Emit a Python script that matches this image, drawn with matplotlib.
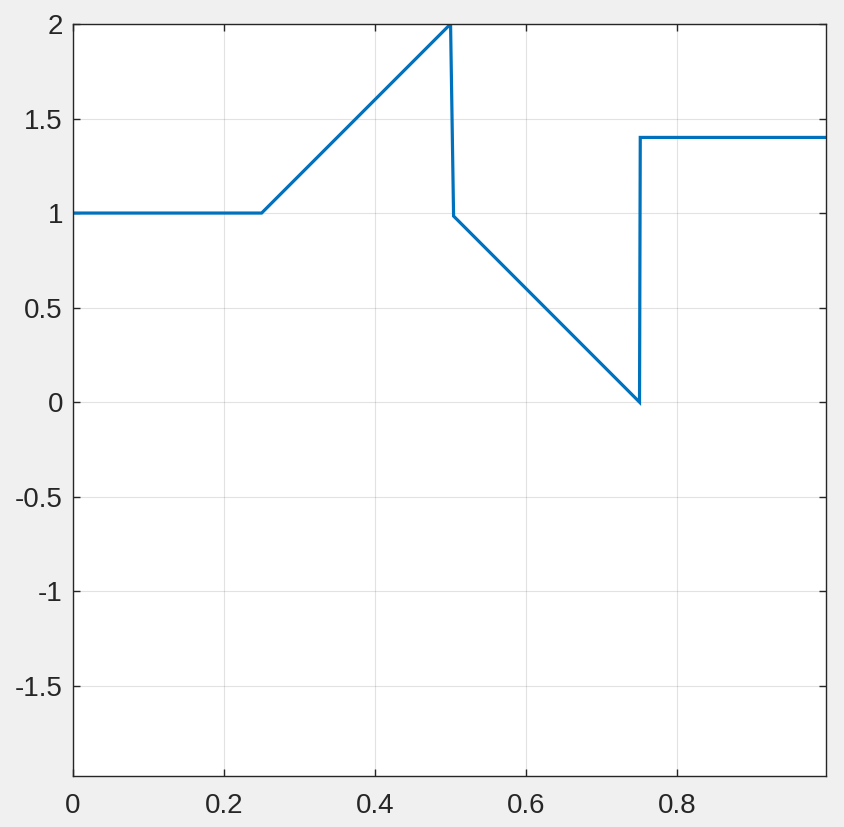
import matplotlib
matplotlib.use('Agg')
import matplotlib.pyplot as plt

# Break points of the piecewise signal.
x = [0.0, 0.25, 0.5, 0.504, 0.75, 0.751, 0.997]
y = [1.0, 1.0, 2.0, 0.984, 0.0, 1.4, 1.4]

xticks = [0, 0.2, 0.4, 0.6, 0.8]
xtick_labels = ['0', '0.2', '0.4', '0.6', '0.8']
yticks = [2, 1.5, 1, 0.5, 0, -0.5, -1, -1.5]
ytick_labels = ['2', '1.5', '1', '0.5', '0', '-0.5', '-1', '-1.5']

plt.rcParams['font.family'] = ['Liberation Sans', 'DejaVu Sans']
plt.rcParams['axes.unicode_minus'] = False

fig = plt.figure(figsize=(8.44, 8.27), dpi=100, facecolor='#f0f0f0')
ax = fig.add_axes([0.0861, 0.0611, 0.8928, 0.9099])
ax.set_facecolor('white')

ax.plot(x, y, color='#0072BD', linewidth=2.3, solid_joinstyle='miter')

ax.set_xlim(0, 0.997)
ax.set_ylim(-1.98, 2.0)
ax.set_xticks(xticks)
ax.set_xticklabels(xtick_labels)
ax.set_yticks(yticks)
ax.set_yticklabels(ytick_labels)

ax.grid(True, color='#262626', alpha=0.13, linewidth=0.8)
ax.set_axisbelow(True)

for s in ax.spines.values():
    s.set_color('#262626')
    s.set_linewidth(1.0)

ax.tick_params(direction='in', length=5, width=1.0, color='#262626',
               labelcolor='#262626', labelsize=20, top=True, right=True)
ax.tick_params(axis='x', pad=12)
ax.tick_params(axis='y', pad=7)

fig.savefig('out.png', dpi=100, facecolor=fig.get_facecolor())
